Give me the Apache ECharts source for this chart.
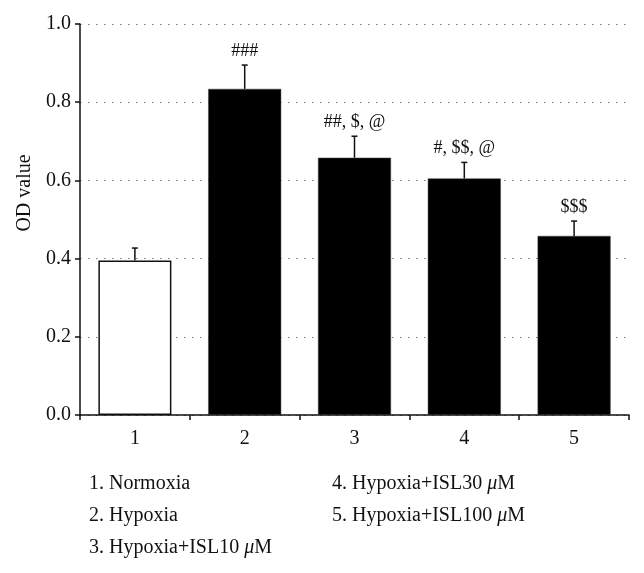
<!DOCTYPE html>
<html>
<head>
<meta charset="utf-8">
<script src="https://cdn.jsdelivr.net/npm/echarts@6/dist/echarts.min.js"></script>
<style>
  html, body { margin: 0; padding: 0; background: #fff; }
  #chart { width: 644px; height: 573px; }
</style>
</head>
<body>
<div id="chart"></div>
<script>
// group numbers on the x axis
const categories = ['1', '2', '3', '4', '5'];
// mean OD values
const odMeans = [0.395, 0.834, 0.658, 0.605, 0.458];
// upper error (SD) read from the whisker tops
const odErrors = [0.032, 0.061, 0.055, 0.041, 0.038];
// significance marks above each bar
const sigMarks = ['', '###', '##, $, @', '#, $$, @', '$$$'];
// key printed under the chart
const groupNames = [
    '1. Normoxia',
    '2. Hypoxia',
    '3. Hypoxia+ISL10 {i|\u03bc}M',
    '4. Hypoxia+ISL30 {i|\u03bc}M',
    '5. Hypoxia+ISL100 {i|\u03bc}M'
];
const yTicks = [0, 0.2, 0.4, 0.6, 0.8, 1.0];
const yTitle = 'OD value';

const FONT = '"Liberation Serif", "DejaVu Serif", serif';
const chart = echarts.init(document.getElementById('chart'));

const errData = odMeans.map((v, i) => [i, v, v + odErrors[i]]);

// legend text placed in two columns
const keyPos = [[89, 486], [89, 518], [89, 550], [332, 486], [332, 518]];
const keyGraphics = groupNames.map((t, i) => ({
    type: 'text',
    left: keyPos[i][0],
    top: keyPos[i][1] - 12,
    style: {
        text: t,
        font: '20px ' + FONT,
        fill: '#111',
        rich: {
            i: { fontStyle: 'italic', fontFamily: FONT, fontSize: 20, fill: '#111' }
        }
    }
}));

chart.setOption({
    animation: false,
    backgroundColor: '#fff',
    grid: { left: 80, right: 15, top: 24, bottom: 158 },
    xAxis: {
        type: 'category',
        data: categories,
        boundaryGap: true,
        axisLine: { lineStyle: { color: '#111', width: 1.5 } },
        axisTick: { show: true, alignWithLabel: false, length: 5, lineStyle: { color: '#111', width: 1.5 } },
        axisLabel: { color: '#111', fontFamily: FONT, fontSize: 20, margin: 14 }
    },
    yAxis: {
        type: 'value',
        min: 0,
        max: 1,
        interval: 0.2,
        axisLine: { show: true, lineStyle: { color: '#111', width: 1.5 } },
        axisTick: { show: true, length: 5, lineStyle: { color: '#111', width: 1.5 } },
        axisLabel: {
            color: '#111', fontFamily: FONT, fontSize: 20, margin: 9,
            formatter: v => yTicks.includes(Math.round(v * 10) / 10) ? v.toFixed(1) : ''
        },
        splitLine: { show: true, lineStyle: { color: '#777', width: 1.2, type: [1.5, 6.5] } }
    },
    series: [
        {
            type: 'bar',
            barWidth: 73,
            data: odMeans.map((v, i) => ({
                value: v,
                itemStyle: i === 0
                    ? { color: '#fff', borderColor: '#111', borderWidth: 1.5 }
                    : { color: '#000', borderColor: '#444', borderWidth: 0.5 }
            })),
            z: 2
        },
        {
            type: 'custom',
            data: errData,
            z: 3,
            renderItem: (params, api) => {
                const base = api.coord([api.value(0), api.value(1)]);
                const top = api.coord([api.value(0), api.value(2)]);
                const cap = 3;
                const mark = sigMarks[params.dataIndex];
                const children = [
                    { type: 'line', shape: { x1: base[0], y1: base[1], x2: top[0], y2: top[1] },
                      style: { stroke: '#111', lineWidth: 1.5 } },
                    { type: 'line', shape: { x1: top[0] - cap, y1: top[1], x2: top[0] + cap, y2: top[1] },
                      style: { stroke: '#111', lineWidth: 1.5 } }
                ];
                if (mark) {
                    children.push({
                        type: 'text',
                        x: top[0], y: top[1] - 5,
                        style: { text: mark, font: '18px ' + FONT, fill: '#111', align: 'center', verticalAlign: 'bottom' }
                    });
                }
                return { type: 'group', children };
            }
        }
    ],
    graphic: keyGraphics.concat([{
        type: 'text',
        x: 25,
        y: 193,
        rotation: Math.PI / 2,
        style: { text: yTitle, font: '20px ' + FONT, fill: '#111', align: 'center', verticalAlign: 'middle' }
    }])
});
</script>
</body>
</html>
